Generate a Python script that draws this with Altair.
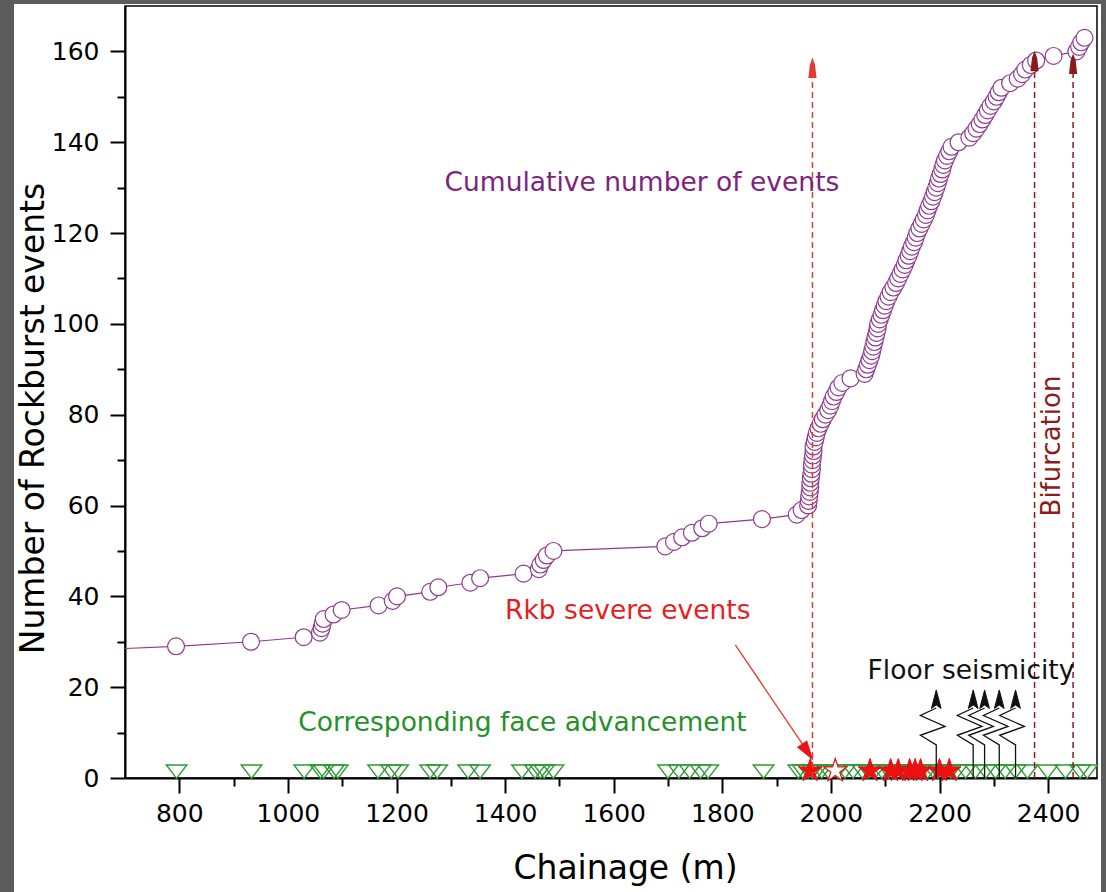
import altair as alt
import pandas as pd

FONT = "DejaVu Sans"

# ---------------- data ----------------
cum_chainage = [600, 794, 932, 1029, 1059, 1062, 1064, 1066, 1084, 1099,
                1167, 1193, 1201, 1262, 1277, 1336, 1354, 1434, 1462, 1465,
                1471, 1477, 1489, 1695, 1711, 1726, 1744, 1763, 1775, 1873,
                1937, 1946, 1958, 1959, 1960, 1961, 1962, 1962, 1963, 1964,
                1965, 1965, 1966, 1967, 1968, 1968, 1970, 1972, 1974, 1977,
                1981, 1985, 1990, 1995, 1999, 2002, 2005, 2010, 2014, 2021,
                2036, 2062, 2065, 2068, 2071, 2074, 2076, 2078, 2080, 2082,
                2084, 2086, 2087, 2090, 2093, 2096, 2099, 2102, 2106, 2110,
                2115, 2120, 2124, 2128, 2132, 2136, 2139, 2143, 2146, 2149,
                2153, 2156, 2159, 2163, 2167, 2171, 2175, 2178, 2181, 2185,
                2188, 2191, 2194, 2197, 2199, 2202, 2205, 2207, 2210, 2214,
                2218, 2222, 2235, 2255, 2262, 2268, 2274, 2279, 2284, 2289,
                2294, 2300, 2305, 2309, 2314, 2330, 2344, 2352, 2358, 2368,
                2378, 2410, 2452, 2457, 2461, 2467]
cum_count = [28, 29, 30, 31, 32, 33, 34, 35, 36, 37,
             38, 39, 40, 41, 42, 43, 44, 45, 46, 47,
             48, 49, 50, 51, 52, 53, 54, 55, 56, 57,
             58, 59, 60, 61, 62, 63, 64, 65, 66, 67,
             68, 69, 70, 71, 72, 73, 74, 75, 76, 77,
             78, 79, 80, 81, 82, 83, 84, 85, 86, 87,
             88, 89, 90, 91, 92, 93, 94, 95, 96, 97,
             98, 99, 100, 101, 102, 103, 104, 105, 106, 107,
             108, 109, 110, 111, 112, 113, 114, 115, 116, 117,
             118, 119, 120, 121, 122, 123, 124, 125, 126, 127,
             128, 129, 130, 131, 132, 133, 134, 135, 136, 137,
             138, 139, 140, 141, 142, 143, 144, 145, 146, 147,
             148, 149, 150, 151, 152, 153, 154, 155, 156, 157,
             158, 159, 160, 161, 162, 163]

face_chainage = [795, 933, 1030, 1060, 1066, 1085, 1092, 1166, 1190, 1203,
                 1262, 1275, 1332, 1354, 1431, 1455, 1465, 1472, 1489,
                 1700, 1720, 1740, 1760, 1774, 1876, 1940, 1948,
                 1958, 1966, 1974, 1983, 1995, 2012, 2026, 2041, 2058, 2069,
                 2081, 2094, 2106, 2118, 2131, 2143, 2152, 2166, 2178, 2189,
                 2197, 2209, 2221, 2232, 2248, 2266, 2285, 2303, 2321, 2340,
                 2362, 2399, 2432, 2459, 2472]
face_level = 1.4

severe_chainage = [1962, 2072, 2110, 2124, 2145, 2155, 2165, 2200, 2218]
severe_open_chainage = [2008]
severe_level = 1.6

floor_chainage = [2194, 2262, 2283, 2310, 2340]
floor_level = 9.7

marker_chainage = [1966, 2375, 2446]
marker_top = [156.0, 157.5, 157.5]
marker_cap = [156.4, 157.9, 157.3]
marker_color = ["#e23a2e", "#8b1a1a", "#8b1a1a"]

x_major_ticks = [800, 1000, 1200, 1400, 1600, 1800, 2000, 2200, 2400]
x_minor_ticks = [900, 1100, 1300, 1500, 1700, 1900, 2100, 2300]
y_major_ticks = [0, 20, 40, 60, 80, 100, 120, 140, 160]
y_minor_ticks = [10, 30, 50, 70, 90, 110, 130, 150]

arrow_start = [1824, 29.3]
arrow_end = [1948, 7.4]
arrow_tip = [1956, 5.9]

labels_text = ["Cumulative number of events", "Rkb severe events",
               "Corresponding face advancement", "Floor seismicity"]
labels_x = [1652, 1626, 1432, 2258]
labels_y = [131.0, 36.8, 12.2, 23.6]
labels_color = ["#7d237d", "#e51e25", "#26912c", "#111111"]

# ---------------- shapes ----------------
TRI_DOWN = "M-1,-0.65L1,-0.65L0,0.65Z"
STAR = ("M0,-1L0.2245,-0.309L0.951,-0.309L0.363,0.118L0.588,0.809L0,0.382"
        "L-0.588,0.809L-0.363,0.118L-0.951,-0.309L-0.2245,-0.309Z")
SPRING = "M0,1L0,0.25L-0.36,0.03L0.2,-0.17L-0.36,-0.42L0,-0.59"
SPRING_HEAD = "M0,-1L0.11,-0.58L0,-0.66L-0.11,-0.58Z"
CAP = "M0,-1L0.25,-0.3L0.4,1L-0.4,1L-0.25,-0.3Z"
ARROWHEAD = "M0,-1L0.6,1L-0.6,1Z"

xs = alt.Scale(domain=[700, 2490], nice=False, zero=False)
ys = alt.Scale(domain=[0, 170], nice=False, zero=False)

x_major = alt.Axis(values=x_major_ticks, orient="bottom", format="d", tickSize=15, tickWidth=2,
                   tickColor="black", domainColor="black", domainWidth=2, grid=False,
                   labelFont=FONT, labelFontSize=25, labelColor="black", labelPadding=8,
                   labelOverlap=False, labelFlush=False,
                   title="Chainage (m)", titleFont=FONT, titleFontSize=33,
                   titleFontWeight="normal", titleColor="black", titleX=500, titleY=100,
                   titleBaseline="alphabetic", titleAlign="center")
x_minor = alt.Axis(values=x_minor_ticks, orient="bottom", tickSize=8, tickWidth=2,
                   tickColor="black", domain=False, labels=False, grid=False, title=None)
y_major = alt.Axis(values=y_major_ticks, orient="left", format="d", tickSize=15, tickWidth=2,
                   tickColor="black", domainColor="black", domainWidth=2, grid=False,
                   labelFont=FONT, labelFontSize=25, labelColor="black", labelPadding=11,
                   labelOverlap=False, labelFlush=False,
                   title="Number of Rockburst events", titleFont=FONT, titleFontSize=33,
                   titleFontWeight="normal", titleColor="black", titleX=-82, titleY=412,
                   titleAngle=270, titleBaseline="alphabetic", titleAlign="center")
y_minor = alt.Axis(values=y_minor_ticks, orient="left", tickSize=8, tickWidth=2,
                   tickColor="black", domain=False, labels=False, grid=False, title=None)

cum_df = pd.DataFrame({"chainage": cum_chainage, "count": cum_count})

line = alt.Chart(cum_df).mark_line(color="#8e3a8e", strokeWidth=1.2, clip=True).encode(
    x=alt.X("chainage:Q", scale=xs, axis=x_major),
    y=alt.Y("count:Q", scale=ys, axis=y_major),
)
circles = alt.Chart(cum_df).mark_point(shape="circle", size=285, filled=False,
                                        fill="white", fillOpacity=1, stroke="#8e3a8e",
                                        strokeWidth=1.2, opacity=1, clip=True).encode(
    x=alt.X("chainage:Q", scale=xs, axis=x_minor),
    y=alt.Y("count:Q", scale=ys, axis=y_minor),
)

face_df = pd.DataFrame({"chainage": face_chainage, "level": [face_level] * len(face_chainage)})
faces = alt.Chart(face_df).mark_point(shape=TRI_DOWN, size=420, filled=False,
                                       stroke="#2f9a35", strokeWidth=1.4, fillOpacity=0,
                                       opacity=1).encode(
    x=alt.X("chainage:Q", scale=xs, axis=None),
    y=alt.Y("level:Q", scale=ys, axis=None),
)

sev_df = pd.DataFrame({"chainage": severe_chainage, "level": [severe_level] * len(severe_chainage)})
stars = alt.Chart(sev_df).mark_point(shape=STAR, size=600, filled=True, fill="#f01010",
                                      stroke="#e01010", strokeWidth=1, opacity=1).encode(
    x=alt.X("chainage:Q", scale=xs, axis=None),
    y=alt.Y("level:Q", scale=ys, axis=None),
)
sev_open_df = pd.DataFrame({"chainage": severe_open_chainage,
                            "level": [severe_level] * len(severe_open_chainage)})
open_stars = alt.Chart(sev_open_df).mark_point(shape=STAR, size=600, filled=False,
                                                fill="white", fillOpacity=1, stroke="#e01010",
                                                strokeWidth=1.2, opacity=1).encode(
    x=alt.X("chainage:Q", scale=xs, axis=None),
    y=alt.Y("level:Q", scale=ys, axis=None),
)

floor_df = pd.DataFrame({"chainage": floor_chainage, "level": [floor_level] * len(floor_chainage)})
springs = alt.Chart(floor_df).mark_point(shape=SPRING, size=7744, filled=False, fillOpacity=0,
                                          stroke="#111111", strokeWidth=1.3, opacity=1).encode(
    x=alt.X("chainage:Q", scale=xs, axis=None),
    y=alt.Y("level:Q", scale=ys, axis=None),
)
spring_heads = alt.Chart(floor_df).mark_point(shape=SPRING_HEAD, size=7744, filled=True,
                                               fill="#111111", stroke="#111111",
                                               strokeWidth=1, opacity=1).encode(
    x=alt.X("chainage:Q", scale=xs, axis=None),
    y=alt.Y("level:Q", scale=ys, axis=None),
)

mk_df = pd.DataFrame({"chainage": marker_chainage, "top": marker_top,
                      "cap": marker_cap, "color": marker_color,
                      "base": [0] * len(marker_chainage)})
dashes = alt.Chart(mk_df).mark_rule(strokeDash=[6, 4], strokeWidth=1.5).encode(
    x=alt.X("chainage:Q", scale=xs, axis=None),
    y=alt.Y("base:Q", scale=ys, axis=None),
    y2="top:Q",
    color=alt.Color("color:N", scale=None),
)
caps = alt.Chart(mk_df).mark_point(shape=CAP, size=420, filled=True, opacity=1).encode(
    x=alt.X("chainage:Q", scale=xs, axis=None),
    y=alt.Y("cap:Q", scale=ys, axis=None),
    color=alt.Color("color:N", scale=None),
)

arr_df = pd.DataFrame({"x": [arrow_start[0]], "y": [arrow_start[1]],
                       "x2": [arrow_end[0]], "y2": [arrow_end[1]]})
arrow_line = alt.Chart(arr_df).mark_rule(color="#e23a2e", strokeWidth=1.3).encode(
    x=alt.X("x:Q", scale=xs, axis=None),
    y=alt.Y("y:Q", scale=ys, axis=None),
    x2="x2:Q", y2="y2:Q",
)
tip_df = pd.DataFrame({"x": [arrow_tip[0]], "y": [arrow_tip[1]]})
arrow_head = alt.Chart(tip_df).mark_point(shape=ARROWHEAD, size=256, angle=146, filled=True,
                                           fill="#e8141a", stroke="#e8141a", opacity=1).encode(
    x=alt.X("x:Q", scale=xs, axis=None),
    y=alt.Y("y:Q", scale=ys, axis=None),
)

lab_df = pd.DataFrame({"text": labels_text, "x": labels_x, "y": labels_y, "color": labels_color})
labels = alt.Chart(lab_df).mark_text(font=FONT, fontSize=26.5, align="center",
                                      baseline="middle").encode(
    x=alt.X("x:Q", scale=xs, axis=None),
    y=alt.Y("y:Q", scale=ys, axis=None),
    text="text:N",
    color=alt.Color("color:N", scale=None),
)
bif_df = pd.DataFrame({"text": ["Bifurcation"], "x": [2408], "y": [73.1]})
bif = alt.Chart(bif_df).mark_text(font=FONT, fontSize=26, align="center", baseline="middle",
                                   angle=270, color="#8a1c1c").encode(
    x=alt.X("x:Q", scale=xs, axis=None),
    y=alt.Y("y:Q", scale=ys, axis=None),
    text="text:N",
)

# picture border (dark frame of the original screenshot)
frame_src = alt.Data(values=[{"k": 1}])
GRAY = "#5c5c5c"
frame_left = alt.Chart(frame_src).mark_rect(color=GRAY).encode(
    x=alt.value(-125), x2=alt.value(-111), y=alt.value(-6), y2=alt.value(886))
frame_top = alt.Chart(frame_src).mark_rect(color=GRAY).encode(
    x=alt.value(-125), x2=alt.value(981), y=alt.value(-6), y2=alt.value(-2))
frame_right = alt.Chart(frame_src).mark_rect(color=GRAY).encode(
    x=alt.value(976), x2=alt.value(981), y=alt.value(-6), y2=alt.value(886))

chart = alt.layer(
    line, circles, faces, stars, open_stars, springs, spring_heads,
    dashes, caps, arrow_line, arrow_head, labels, bif,
    frame_left, frame_top, frame_right,
).resolve_axis(x="independent", y="independent").properties(
    width=972, height=772,
    padding={"left": 125, "top": 6, "right": 9, "bottom": 114},
    autosize=alt.AutoSizeParams(type="none"),
    background="white",
).configure_view(stroke="black", strokeWidth=1.5)

chart.save("out.html", embed_options={"renderer": "svg", "actions": False})
